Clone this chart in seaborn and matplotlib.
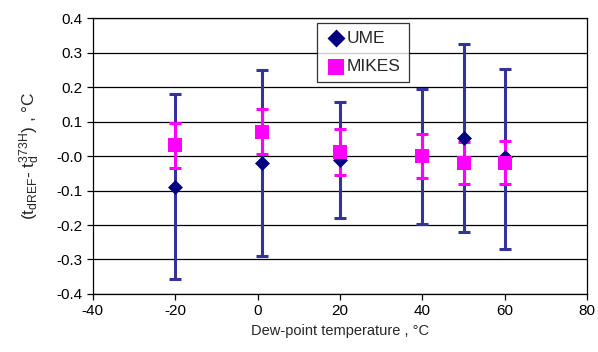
import numpy as np
import pandas as pd
import seaborn as sns
import matplotlib.pyplot as plt

# dew-point temperatures, degC
ume_x = [-20, 1, 20, 40, 50, 60]
ume_y = [-0.089, -0.021, -0.011, 0.0, 0.052, -0.003]
ume_lo = [-0.356, -0.290, -0.180, -0.196, -0.221, -0.271]
ume_hi = [0.179, 0.251, 0.158, 0.196, 0.325, 0.252]

mikes_x = [-20, 1, 20, 40, 50, 60]
mikes_y = [0.032, 0.070, 0.011, 0.001, -0.019, -0.019]
mikes_lo = [-0.034, 0.005, -0.055, -0.063, -0.081, -0.081]
mikes_hi = [0.095, 0.137, 0.078, 0.064, 0.042, 0.043]

sns.set_style("white")
plt.rcParams['font.family'] = ['Liberation Sans', 'DejaVu Sans']
plt.rcParams['mathtext.fontset'] = 'custom'
plt.rcParams['mathtext.rm'] = 'Liberation Sans'
plt.rcParams['mathtext.it'] = 'Liberation Sans'
plt.rcParams['axes.unicode_minus'] = False

fig = plt.figure(figsize=(5.98, 3.52), dpi=100)
ax = fig.add_axes([0.155, 0.165, 0.827, 0.783])

# error bars first
ume_y_arr = np.array(ume_y)
ax.errorbar(ume_x, ume_y, yerr=[ume_y_arr - np.array(ume_lo), np.array(ume_hi) - ume_y_arr],
            fmt='none', ecolor='#333399', elinewidth=2.2, capsize=4.5, capthick=2.2, zorder=2)
mikes_y_arr = np.array(mikes_y)
ax.errorbar(mikes_x, mikes_y, yerr=[mikes_y_arr - np.array(mikes_lo), np.array(mikes_hi) - mikes_y_arr],
            fmt='none', ecolor='#FF00FF', elinewidth=2.2, capsize=4.5, capthick=2.2, zorder=3)

df_ume = pd.DataFrame({'x': ume_x, 'y': ume_y})
df_mikes = pd.DataFrame({'x': mikes_x, 'y': mikes_y})
sns.scatterplot(data=df_ume, x='x', y='y', ax=ax, marker='D', s=58, color='#000080',
                edgecolor='#000080', linewidth=0, label='UME', zorder=4)
sns.scatterplot(data=df_mikes, x='x', y='y', ax=ax, marker='s', s=95, color='#FF00FF',
                edgecolor='#FF00FF', linewidth=0, label='MIKES', zorder=5)

ax.set_xlim(-40, 80)
ax.set_ylim(-0.4, 0.4)
ax.set_xticks(np.arange(-40, 81, 20))
ax.set_yticks(np.arange(-0.4, 0.41, 0.1))
ax.set_yticklabels(['%.1f' % v for v in np.arange(-0.4, 0.41, 0.1)])
ax.yaxis.grid(True, color='black', linewidth=0.9)
ax.xaxis.grid(False)
ax.set_axisbelow(True)
for s in ax.spines.values():
    s.set_color('black')
    s.set_linewidth(0.9)
ax.tick_params(axis='both', direction='out', length=4, width=0.9, colors='black',
               labelsize=11, bottom=True, left=True)

ax.set_xlabel('Dew-point temperature , °C', fontsize=10.5)
ax.set_ylabel(r'($\mathregular{t_{dREF}}$- $\mathregular{t_d^{373H}}$) , °C', fontsize=12.5, labelpad=10)

leg = ax.legend(loc='upper left', bbox_to_anchor=(0.453, 0.983), frameon=True, fancybox=False,
                edgecolor='black', fontsize=12.5, handletextpad=0.0, borderpad=0.45,
                labelspacing=0.75, handlelength=1.3, borderaxespad=0, markerscale=1.2)
leg.get_frame().set_linewidth(0.9)

fig.savefig('out.png', dpi=100)
